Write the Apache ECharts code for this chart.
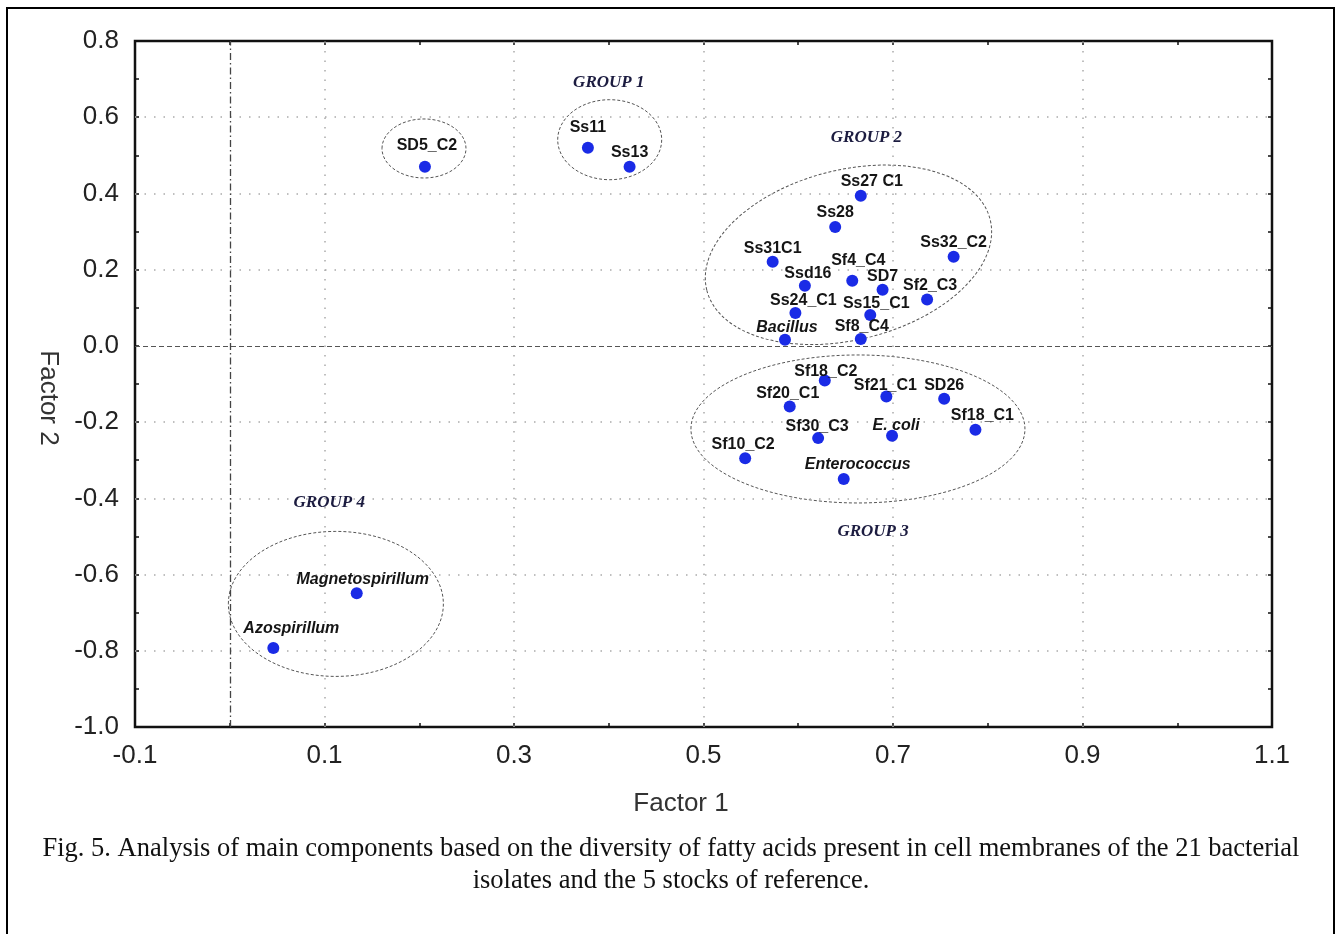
<!DOCTYPE html>
<html>
<head>
<meta charset="utf-8">
<script src="https://cdn.jsdelivr.net/npm/echarts@6/dist/echarts.min.js"></script>
<style>
html,body{margin:0;padding:0;background:#fff;}
#chart{width:1335px;height:934px;}
</style>
</head>
<body>
<div id="chart"></div>
<script>
// ---------- data ----------
const names = ['SD5_C2','Ss11','Ss13','Ss27 C1','Ss28','Ss31C1','Ss32_C2','Sf4_C4','Ssd16','SD7','Sf2_C3','Ss24_C1','Ss15_C1','Bacillus','Sf8_C4',
  'Sf18_C2','Sf21_C1','SD26','Sf20_C1','Sf18_C1','Sf30_C3','E. coli','Sf10_C2','Enterococcus','Magnetospirillum','Azospirillum'];
const factor1 = [0.206,0.378,0.422,0.666,0.639,0.573,0.764,0.657,0.607,0.689,0.736,0.597,0.676,0.586,0.666,
  0.628,0.693,0.754,0.591,0.787,0.621,0.699,0.544,0.648,0.134,0.046];
const factor2 = [0.470,0.520,0.470,0.394,0.312,0.221,0.234,0.171,0.158,0.147,0.122,0.086,0.081,0.016,0.018,
  -0.091,-0.133,-0.139,-0.159,-0.220,-0.242,-0.236,-0.295,-0.349,-0.649,-0.793];
const italicNames = ['Bacillus','E. coli','Enterococcus','Magnetospirillum','Azospirillum'];
const groupNames = ['GROUP 1','GROUP 2','GROUP 3','GROUP 4'];
const groupLabelX = [0.400,0.672,0.679,0.105];
const groupLabelY = [0.690,0.546,-0.488,-0.412];
const ellipseX = [0.205,0.401,0.653,0.663,0.112];
const ellipseY = [0.518,0.541,0.239,-0.218,-0.677];
const xGridValues = [0.1,0.3,0.5,0.7,0.9];
const yGridValues = [0.6,0.4,0.2,-0.2,-0.4,-0.6,-0.8];
const captionLines = ['Fig. 5. Analysis of main components based on the diversity of fatty acids present in cell membranes of the 21 bacterial',
  'isolates and the 5 stocks of reference.'];

// ---------- styles (label offsets in px, ellipse sizes in px) ----------
const labelOffsets = [[2,-21],[0,-20],[0,-14],[11,-14],[0,-14],[0,-13],[0,-14],[6,-20],[3,-12],[0,-13],[3,-14],[8,-13],[6,-11],[2,-12],[1,-12],
  [1,-9],[-1,-11],[0,-13],[-2,-13],[7,-14],[-1,-12],[4,-10],[-2,-14],[14,-14],[6,-14],[18,-20]];
const ellipseShapes = [[42,29.5,0],[52,40,0],[146,85,14],[167,74,0],[107.5,72.5,0]];

const chart = echarts.init(document.getElementById('chart'));
const points = names.map((n,i)=>({
  value:[factor1[i],factor2[i]],
  name:n,
  label:{offset:labelOffsets[i], fontStyle: italicNames.includes(n)?'italic':'normal'}
}));

const axisFontColor = '#222';
const tickStyle = {show:true,inside:true,length:4,lineStyle:{color:'#111',width:1.5}};
chart.setOption({
  animation:false,
  grid:{left:135,top:41,right:63,bottom:207,show:true,borderColor:'#111',borderWidth:2.5,backgroundColor:'transparent'},
  xAxis:[{
    type:'value',min:-0.1,max:1.1,interval:0.1,
    axisLine:{show:false,onZero:false},
    axisTick:tickStyle,
    splitLine:{show:false},
    axisLabel:{fontFamily:'Liberation Sans, Arial',fontSize:26,color:axisFontColor,margin:16,
      formatter:v=>{const k=Math.round(v*10);return Math.abs(k)%2===1?v.toFixed(1):'';}}
  },{
    type:'value',position:'top',min:-0.1,max:1.1,interval:0.1,
    axisLine:{show:false,onZero:false},axisLabel:{show:false},splitLine:{show:false},
    axisTick:tickStyle
  }],
  yAxis:[{
    type:'value',min:-1.0,max:0.8,interval:0.1,
    axisLine:{show:false,onZero:false},
    axisTick:tickStyle,
    splitLine:{show:false},
    axisLabel:{fontFamily:'Liberation Sans, Arial',fontSize:26,color:axisFontColor,margin:16,
      formatter:v=>{const k=Math.round(v*10);return Math.abs(k)%2===0?v.toFixed(1):'';}}
  },{
    type:'value',position:'right',min:-1.0,max:0.8,interval:0.1,
    axisLine:{show:false,onZero:false},axisLabel:{show:false},splitLine:{show:false},
    axisTick:tickStyle
  }],
  series:[{
    type:'scatter',data:[],silent:true,z:1,
    markLine:{
      silent:true,symbol:'none',animation:false,label:{show:false},
      data:[
        ...xGridValues.map(v=>({xAxis:v,lineStyle:{color:'#aaa',width:1.5,type:[1.5,8]}})),
        ...yGridValues.map(v=>({yAxis:v,lineStyle:{color:'#aaa',width:1.5,type:[1.5,8]}})),
        {xAxis:0,lineStyle:{color:'#444',width:1.3,type:[7,3,1.5,3]}},
        {yAxis:0,lineStyle:{color:'#555',width:1.2,type:[5,3]}}
      ]
    }
  },{
    type:'scatter',z:5,symbol:'circle',symbolSize:12,
    itemStyle:{color:'#1a2be6',opacity:1},
    label:{show:true,position:'inside',formatter:p=>p.name,fontFamily:'Liberation Sans, Arial',fontWeight:'bold',fontSize:16,color:'#151515',opacity:1},
    data:points
  }]
});

function px(x,y){return chart.convertToPixel({gridIndex:0},[x,y]);}
const graphics = [];
// outer frame
graphics.push({type:'rect',shape:{x:7,y:8,width:1327,height:960},style:{fill:'none',stroke:'#000',lineWidth:2},silent:true,z:0});
// ellipses
ellipseX.forEach((ex,i)=>{
  const c = px(ex,ellipseY[i]);
  const s = ellipseShapes[i];
  graphics.push({type:'ellipse',x:c[0],y:c[1],rotation:s[2]*Math.PI/180,shape:{cx:0,cy:0,rx:s[0],ry:s[1]},
    style:{fill:'none',stroke:'#555',lineWidth:1,lineDash:[3,2]},silent:true,z:2});
});
// group labels
groupNames.forEach((g,i)=>{
  const c = px(groupLabelX[i],groupLabelY[i]);
  graphics.push({type:'text',x:c[0],y:c[1],style:{text:g,font:'italic bold 17px "Liberation Serif", serif',fill:'#1c1c40',textAlign:'center',textVerticalAlign:'middle'},silent:true,z:6});
});
// axis names
graphics.push({type:'text',x:681,y:804,style:{text:'Factor 1',font:'26px "Liberation Sans", Arial',fill:'#333',textAlign:'center',textVerticalAlign:'middle'},silent:true});
graphics.push({type:'text',x:48,y:398,rotation:-Math.PI/2,style:{text:'Factor 2',font:'26px "Liberation Sans", Arial',fill:'#333',textAlign:'center',textVerticalAlign:'middle'},silent:true});
// caption
captionLines.forEach((t,i)=>{
  graphics.push({type:'text',x:671,y:849+i*32,style:{text:t,font:'26.5px "Liberation Serif", "Times New Roman", serif',fill:'#111',textAlign:'center',textVerticalAlign:'middle'},silent:true});
});
chart.setOption({graphic:graphics});
</script>
</body>
</html>
